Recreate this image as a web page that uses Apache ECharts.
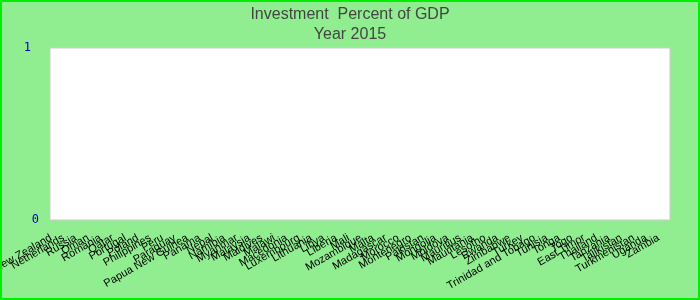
<!DOCTYPE html>
<html><head><meta charset="utf-8">
<script src="https://cdn.jsdelivr.net/npm/echarts@6/dist/echarts.min.js"></script>
<style>html,body{margin:0;padding:0;background:#90ee90}#c{width:700px;height:300px}</style>
</head><body><div id="c"></div>
<script>
const titleText = "Investment  Percent of GDP";
const subtitleText = "Year 2015";
const countries = ["New Zealand","Netherlands","Russia","Oman","Romania","Qatar","Portugal","Poland","Philippines","Peru","Paraguay","Papua New Guinea","Panama","Nepal","Namibia","Myanmar","Malaysia","Maldives","Malawi","Macedonia","Luxembourg","Lithuania","Libya","Liberia","Mali","Mozambique","Malta","Madagascar","Morocco","Montenegro","Pakistan","Mongolia","Moldova","Mauritius","Mauritania","Lesotho","Rwanda","Zimbabwe","Turkey","Trinidad and Tobago","Tunisia","Tonga","Togo","East Timor","Thailand","Tanzania","Tajikistan","Turkmenistan","Uganda","Zambia"];
const investment = [0,0,0,0,0,0,0,0,0,0,0,0,0,0,0,0,0,0,0,0,0,0,0,0,0,0,0,0,0,0,0,0,0,0,0,0,0,0,0,0,0,0,0,0,0,0,0,0,0,0];
const yTicks = [0, 1];

const chart = echarts.init(document.getElementById('c'), null, {renderer:'canvas'});
chart.setOption({
  animation:false,
  backgroundColor:'#90ee90',
  title:[
    {text:titleText, left:'center', top:2, textStyle:{fontFamily:'Liberation Sans, Arial', fontSize:16, fontWeight:'normal', color:'#444'}},
    {text:subtitleText, left:'center', top:22, textStyle:{fontFamily:'Liberation Sans, Arial', fontSize:16, fontWeight:'normal', color:'#444'}}
  ],
  graphic:[{type:'rect', shape:{x:1,y:1,width:698,height:298}, style:{fill:null, stroke:'#00ee00', lineWidth:2}, silent:true, z:100}],
  grid:{left:50, right:30, top:48, bottom:80, outerBoundsMode:'none', containLabel:false, show:true, backgroundColor:'#ffffff', borderColor:'#cccccc', borderWidth:1},
  xAxis:{type:'category', data:countries, axisLine:{show:false}, axisTick:{show:false},
    axisLabel:{interval:0, rotate:30, fontSize:11, color:'#000', fontFamily:'Liberation Sans, Arial', margin:14, padding:[0,6,0,0]}},
  yAxis:{type:'value', min:yTicks[0], max:yTicks[yTicks.length-1], interval:1, axisLine:{show:false}, axisTick:{show:false}, splitLine:{show:false},
    axisLabel:{color:'#0000bb', fontSize:12, fontFamily:'DejaVu Sans Mono, monospace', margin:11,
      formatter: function(v){ return v === 1 ? '{a|1}' : '{b|0}'; },
      rich:{a:{padding:[0,8,0,0], color:'#0000bb', fontSize:12, fontFamily:'DejaVu Sans Mono, monospace'}, b:{color:'#0000bb', fontSize:12, fontFamily:'DejaVu Sans Mono, monospace'}}}},
  series:[{type:'bar', data:investment, itemStyle:{color:'#4472c4'}}]
});
</script></body></html>
